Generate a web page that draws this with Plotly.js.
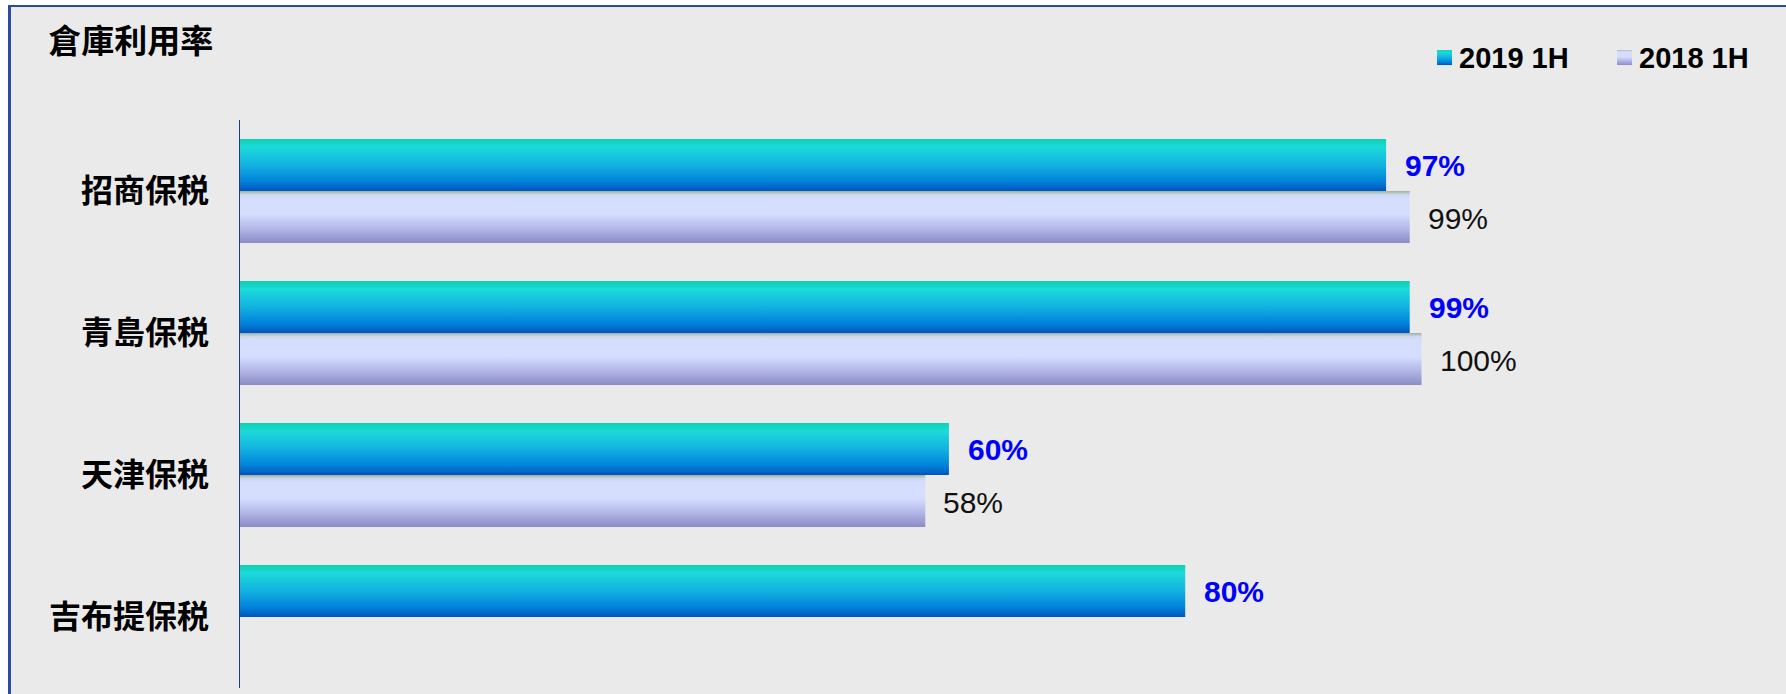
<!DOCTYPE html>
<html>
<head>
<meta charset="utf-8">
<script src="https://cdn.plot.ly/plotly-3.0.1.min.js"></script>
<style>
  html, body { margin: 0; padding: 0; background: #ffffff; }
  #wrap { position: relative; width: 1786px; height: 694px; overflow: hidden; }
  #chart { position: absolute; left: 0; top: 0; width: 1786px; height: 694px; }
  #frame {
    position: absolute; left: 8px; top: 5px; width: 1800px; height: 720px;
    border-left: 3px solid #2b4c9e; border-top: 2px solid #2b4c9e;
    pointer-events: none;
  }
  #mask { position: absolute; left: 0; top: 0; width: 1786px; height: 694px; pointer-events: none;
    box-shadow: inset 8px 5px 0 0 #ffffff; }
</style>
</head>
<body>
<div id="wrap">
  <div id="chart"></div>
  <div id="mask"></div>
  <div id="frame"></div>
</div>
<script>
// Warehouse utilisation, 1H 2019 vs 1H 2018
const categories = ['招商保税', '青島保税', '天津保税', '吉布提保税'];
const util2019 = [97, 99, 60, 80];
const util2018 = [99, 100, 58, null];
const seriesNames = ['2019 1H', '2018 1H'];

const latin = 'Liberation Sans, Arial, sans-serif';
const cjk = 'Noto Sans CJK TC, Noto Sans CJK SC, sans-serif';

const trace2019 = {
    type: 'bar',
    orientation: 'h',
    name: seriesNames[0],
    y: categories,
    x: util2019,
    marker: { color: '#0a9fe0', line: { width: 0 } },
    hoverinfo: 'skip'
};

const trace2018 = {
    type: 'bar',
    orientation: 'h',
    name: seriesNames[1],
    y: categories,
    x: util2018,
    marker: { color: '#d6deff', line: { width: 0 } },
    hoverinfo: 'skip'
};

// value labels sit a little past the bar ends
const labels = [];
categories.forEach((c, i) => {
    if (util2019[i] != null) {
        labels.push({
            x: util2019[i], y: c, xref: 'x', yref: 'y',
            text: util2019[i] + '%', showarrow: false,
            xanchor: 'left', yanchor: 'middle', xshift: 17, yshift: 26,
            font: { family: latin, size: 30, color: '#0000ff', weight: 'bold' }
        });
    }
    if (util2018[i] != null) {
        labels.push({
            x: util2018[i], y: c, xref: 'x', yref: 'y',
            text: util2018[i] + '%', showarrow: false,
            xanchor: 'left', yanchor: 'middle', xshift: 16, yshift: -27,
            font: { family: latin, size: 30, color: '#111111' }
        });
    }
});

const layout = {
    width: 1786,
    height: 694,
    paper_bgcolor: '#eaeaea',
    plot_bgcolor: 'rgba(0,0,0,0)',
    margin: { l: 240, r: 10, t: 120, b: 6 },
    barmode: 'group',
    bargap: 0.268,
    bargroupgap: 0,
    showlegend: true,
    title: {
        text: '倉庫利用率',
        xref: 'container', yref: 'container',
        x: 0.027, xanchor: 'left',
        y: 0.94, yanchor: 'middle',
        font: { family: cjk, size: 33, color: '#000000', weight: 'bold' }
    },
    legend: {
        orientation: 'h',
        x: 0.7676, xanchor: 'left',
        y: 1.112, yanchor: 'middle',
        entrywidth: 135,
        bgcolor: 'rgba(0,0,0,0)',
        font: { family: latin, size: 29, color: '#000000', weight: 'bold' },
        traceorder: 'normal',
        itemclick: false
    },
    xaxis: {
        range: [0, 130],
        visible: false,
        fixedrange: true
    },
    yaxis: {
        type: 'category',
        autorange: 'reversed',
        showline: true,
        linecolor: '#1f3b8a',
        linewidth: 1.5,
        showgrid: false,
        zeroline: false,
        ticks: '',
        ticklabelstandoff: 23,
        tickfont: { family: cjk, size: 32, color: '#000000', weight: 'bold' },
        fixedrange: true
    },
    annotations: labels
};

Plotly.newPlot('chart', [trace2019, trace2018], layout, { staticPlot: true }).then(gd => {
    // Plotly has no gradient bar fill, so add vertical gradients to its defs
    const svgNS = 'http://www.w3.org/2000/svg';
    const defs = gd.querySelector('svg.main-svg defs');
    const grads = {
        g2019: [[0, '#0cd1b0'], [0.16, '#1cd9da'], [0.5, '#12b2e0'], [0.82, '#0081da'], [1, '#0054bc']],
        g2018: [[0, '#9fb09f'], [0.07, '#cdd8ee'], [0.14, '#d5ddfc'], [0.45, '#d6deff'], [0.72, '#b3b7e7'], [1, '#8c8cc6']]
    };
    Object.keys(grads).forEach(id => {
        const lg = document.createElementNS(svgNS, 'linearGradient');
        lg.setAttribute('id', id);
        lg.setAttribute('x1', '0'); lg.setAttribute('y1', '0');
        lg.setAttribute('x2', '0'); lg.setAttribute('y2', '1');
        grads[id].forEach(([o, c]) => {
            const st = document.createElementNS(svgNS, 'stop');
            st.setAttribute('offset', o);
            st.setAttribute('stop-color', c);
            lg.appendChild(st);
        });
        defs.appendChild(lg);
    });

    const fills = ['url(#g2019)', 'url(#g2018)'];
    gd.querySelectorAll('.barlayer .trace.bars').forEach((t, i) => {
        t.querySelectorAll('path').forEach(p => { p.style.fill = fills[i]; });
    });

    // legend swatches: 15px squares placed 7px left of their text
    const symSize = 15, symGap = 7;
    gd.querySelectorAll('.legend .traces').forEach((t, i) => {
        const txt = t.querySelector('text.legendtext');
        const tr = txt.getBoundingClientRect();
        t.querySelectorAll('.legendpoints path').forEach(p => {
            p.style.fill = fills[i];
            p.style.stroke = 'none';
            p.removeAttribute('transform');
            const bb = p.getBBox();
            const sr = p.getBoundingClientRect();
            const lcx = bb.x + bb.width / 2, lcy = bb.y + bb.height / 2;
            const scx = sr.left + sr.width / 2, scy = sr.top + sr.height / 2;
            const tx = tr.left - symGap - symSize / 2;
            const ty = tr.top + tr.height / 2;
            const s = symSize / bb.width;
            p.setAttribute('transform',
                `translate(${lcx + tx - scx},${lcy + ty - scy}) scale(${s}) translate(${-lcx},${-lcy})`);
        });
    });
});
</script>
</body>
</html>
